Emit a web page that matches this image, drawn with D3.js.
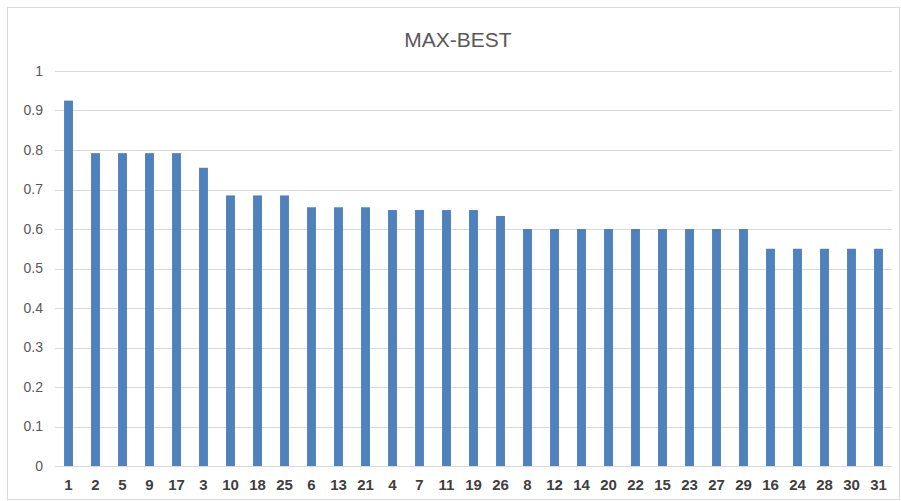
<!DOCTYPE html>
<html>
<head>
<meta charset="utf-8">
<script src="https://cdn.jsdelivr.net/npm/d3@7"></script>
<style>
  body { margin: 0; background: #fff; }
</style>
</head>
<body>
<div id="chart"></div>
<script>
// categories along x, in the order shown
var categories = ["1","2","5","9","17","3","10","18","25","6","13","21","4","7","11","19","26",
                  "8","12","14","20","22","15","23","27","29","16","24","28","30","31"];
// MAX-BEST values
var values = [0.925, 0.792, 0.792, 0.792, 0.792, 0.755, 0.685, 0.685, 0.685, 0.655, 0.655, 0.655,
              0.648, 0.648, 0.648, 0.648, 0.633,
              0.6, 0.6, 0.6, 0.6, 0.6, 0.6, 0.6, 0.6, 0.6,
              0.55, 0.55, 0.55, 0.55, 0.55];
var yTicks = [0, 0.1, 0.2, 0.3, 0.4, 0.5, 0.6, 0.7, 0.8, 0.9, 1];

var width = 901, height = 501;
var margin = {left: 55, right: 9, top: 71, bottom: 35};

var svg = d3.select("#chart").append("svg")
    .attr("width", width)
    .attr("height", height);

// chart frame
svg.append("rect")
    .attr("x", 7.5).attr("y", 7.5)
    .attr("width", width - 9).attr("height", height - 9)
    .attr("fill", "#fff")
    .attr("stroke", "#d9d9d9");

var x = d3.scaleBand()
    .domain(categories)
    .range([margin.left, width - margin.right])
    .paddingInner(0.67)
    .paddingOuter(0.335);

var y = d3.scaleLinear()
    .domain([0, 1])
    .range([height - margin.bottom, margin.top]);

// gridlines
svg.append("g")
    .selectAll("line")
    .data(yTicks)
    .enter().append("line")
    .attr("x1", margin.left).attr("x2", width - margin.right)
    .attr("y1", function(d) { return Math.round(y(d)) + 0.5; })
    .attr("y2", function(d) { return Math.round(y(d)) + 0.5; })
    .attr("stroke", "#d9d9d9");

// bars
svg.append("g")
    .selectAll("rect")
    .data(values)
    .enter().append("rect")
    .attr("x", function(d, i) { return x(categories[i]); })
    .attr("width", x.bandwidth())
    .attr("y", function(d) { return y(d); })
    .attr("height", function(d) { return y(0) - y(d); })
    .attr("fill", "#4f81bd");

// y axis labels
var yAxis = d3.axisLeft(y).tickValues(yTicks).tickSize(0).tickPadding(12)
    .tickFormat(function(d) { return String(d); });
var gy = svg.append("g")
    .attr("transform", "translate(" + margin.left + ",0)")
    .call(yAxis);
gy.select(".domain").remove();
gy.selectAll("text")
    .attr("font-family", "Liberation Sans, Arial, sans-serif")
    .attr("font-size", "14px")
    .attr("fill", "#595959");

// x axis labels
var xAxis = d3.axisBottom(x).tickSize(0).tickPadding(13);
var gx = svg.append("g")
    .attr("transform", "translate(0," + y(0) + ")")
    .call(xAxis);
gx.select(".domain").remove();
gx.selectAll("text")
    .attr("font-family", "Liberation Sans, Arial, sans-serif")
    .attr("font-size", "15px")
    .attr("font-weight", "bold")
    .attr("fill", "#404040");

// title
svg.append("text")
    .attr("x", 458)
    .attr("y", 47)
    .attr("text-anchor", "middle")
    .attr("font-family", "Liberation Sans, Arial, sans-serif")
    .attr("font-size", "21px")
    .attr("fill", "#595959")
    .text("MAX-BEST");
</script>
</body>
</html>
